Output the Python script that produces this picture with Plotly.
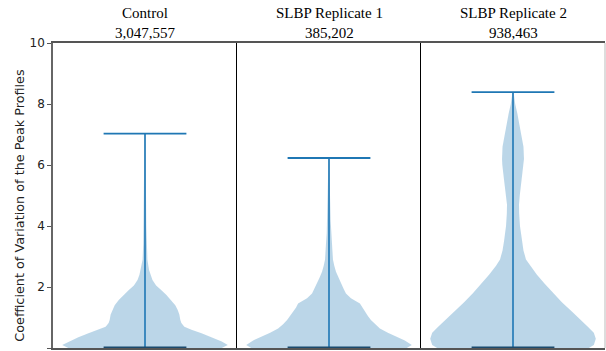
import plotly.graph_objects as go
from plotly.subplots import make_subplots

# ---- data ----
groups = ["Control", "SLBP Replicate 1", "SLBP Replicate 2"]
counts = ["3,047,557", "385,202", "938,463"]
maxima = [7.03, 6.23, 8.39]
minima = [0.0, 0.0, 0.0]

# density profiles (value grid, half-width of violin in arbitrary units)
control_y = [0, 0.1, 0.21, 0.35, 0.48, 0.6, 0.7, 0.82, 0.92, 1.1, 1.25, 1.4, 1.57, 1.75,
             1.9, 2.05, 2.23, 2.4, 2.56, 2.89, 3.44, 4.0, 5.0, 6.0, 7.03]
control_d = [76, 82, 76, 66, 56, 46, 39, 36, 35, 34, 32.4, 30, 26, 21,
             16, 11, 7.4, 5.5, 4, 2.4, 1.7, 1.3, 1.0, 0.8, 0.5]

rep1_y = [0, 0.1, 0.25, 0.37, 0.5, 0.64, 0.78, 0.92, 1.05, 1.19, 1.33, 1.46, 1.63, 1.79,
          1.95, 2.12, 2.3, 2.5, 2.7, 2.89, 3.15, 3.43, 3.76, 4.2, 5.0, 5.6, 6.23]
rep1_d = [78, 83, 76, 67, 59, 51, 46, 42, 39, 36, 33, 31, 22, 17,
          14.5, 12, 9.5, 7, 5.3, 4, 3.5, 3, 2.3, 1.6, 1.0, 0.8, 0.5]

rep2_y = [0, 0.1, 0.3, 0.5, 0.7, 0.9, 1.2, 1.5, 1.8, 2.1, 2.4, 2.7, 2.9, 3.2, 3.5, 4.0,
          4.4, 4.7, 5.0, 5.3, 5.6, 6.0, 6.2, 6.6, 7.0, 7.4, 7.7, 8.0, 8.2, 8.39]
rep2_d = [76, 81, 83, 81, 75, 69, 59, 49, 40, 32, 24, 17, 13, 10.5, 9, 7,
          6.2, 6, 6.8, 8, 9.3, 10.7, 11, 10.5, 8.5, 6, 4.3, 2.2, 1.2, 0.5]

profiles = [(control_y, control_d), (rep1_y, rep1_d), (rep2_y, rep2_d)]
y_ticks = [0, 2, 4, 6, 8, 10]

BLUE = "#1f77b4"
FILL = "rgba(31,119,180,0.3)"
POS = 1.0
HALF = 0.45  # max half-width of violin (x units)

fig = make_subplots(rows=1, cols=3, shared_yaxes=True, horizontal_spacing=0)

for i, (ys, ds) in enumerate(profiles):
    col = i + 1
    m = max(ds)
    w = [HALF * d / m for d in ds]
    xs = [POS + v for v in w] + [POS - v for v in reversed(w)]
    yy = list(ys) + list(reversed(ys))
    fig.add_trace(go.Scatter(x=xs, y=yy, mode="lines", fill="toself", fillcolor=FILL,
                             line=dict(width=0, color=FILL), hoverinfo="skip",
                             showlegend=False), row=1, col=col)
    # center bar
    fig.add_trace(go.Scatter(x=[POS, POS], y=[minima[i], maxima[i]], mode="lines",
                             line=dict(color=BLUE, width=1.6), showlegend=False),
                  row=1, col=col)
    # max bar
    fig.add_trace(go.Scatter(x=[POS - HALF / 2, POS + HALF / 2], y=[maxima[i], maxima[i]],
                             mode="lines", line=dict(color=BLUE, width=1.8),
                             showlegend=False), row=1, col=col)
    # min bar
    fig.add_trace(go.Scatter(x=[POS - HALF / 2, POS + HALF / 2], y=[minima[i], minima[i]],
                             mode="lines", line=dict(color="#1b4a6d", width=3),
                             showlegend=False), row=1, col=col)

for col in range(1, 4):
    fig.update_xaxes(range=[0.5, 1.5], showticklabels=False, ticks="", showgrid=False,
                     zeroline=False, showline=True, mirror=True, linecolor="#555",
                     linewidth=1.5, layer="below traces", row=1, col=col)

fig.update_yaxes(range=[0, 10], tickvals=y_ticks, showgrid=False, zeroline=False,
                 row=1, col=1, showline=True, linecolor="#666", linewidth=1.5,
                 ticks="outside", ticklen=4, tickcolor="#555", tickwidth=1,
                 tickfont=dict(family="DejaVu Sans", size=12, color="#222"))
for col in (2, 3):
    fig.update_yaxes(range=[0, 10], showgrid=False, zeroline=False, showticklabels=False,
                     ticks="", showline=True, linecolor="black", linewidth=1,
                     row=1, col=col)

annotations = []
centers = [1 / 6, 1 / 2, 5 / 6]
for g, c, cx in zip(groups, counts, centers):
    annotations.append(dict(text=f"{g}<br>{c}", x=cx, y=1, xref="paper", yref="paper",
                            xanchor="center", yanchor="bottom", showarrow=False,
                            font=dict(family="Liberation Serif", size=15, color="black")))
annotations.append(dict(text="Coefficient of Variation of the Peak Profiles",
                        x=-0.0598, y=0.47, xref="paper", yref="paper", textangle=-90,
                        xanchor="center", yanchor="middle", showarrow=False,
                        font=dict(family="DejaVu Sans", size=12.8, color="#222")))

fig.update_layout(width=606, height=351, margin=dict(l=53, r=1, t=43, b=3),
                  plot_bgcolor="white", paper_bgcolor="white", showlegend=False,
                  annotations=annotations,
                  shapes=[dict(type="line", xref="paper", yref="paper", x0=1, x1=1,
                               y0=0, y1=1, line=dict(color="#bbb", width=1))])

fig.write_html("out.html", config={"displayModeBar": False},
               post_script="document.body.style.margin='0';document.body.style.overflow='hidden';")
